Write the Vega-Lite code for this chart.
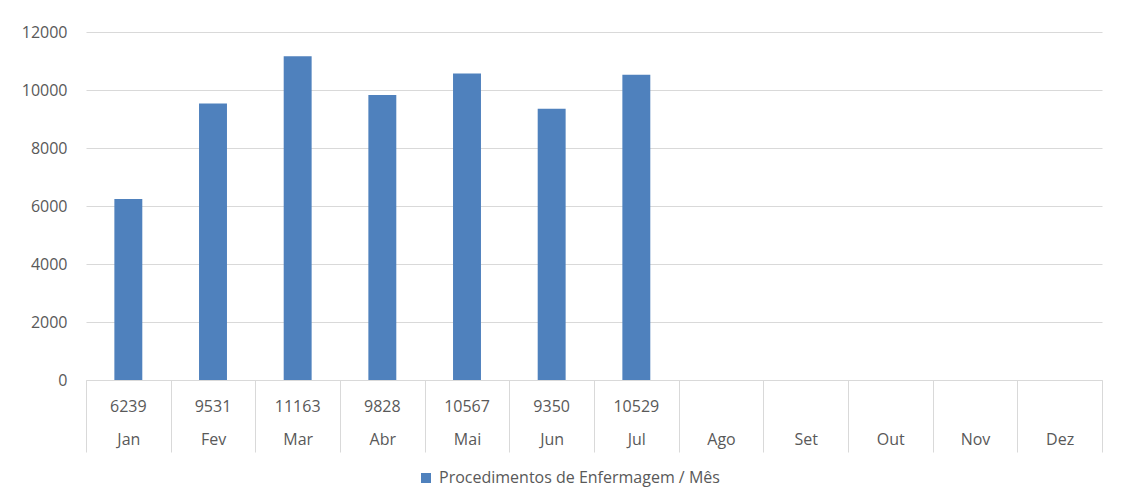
{
  "$schema": "https://vega.github.io/schema/vega-lite/v6.json",
  "width": 1016,
  "height": 348,
  "autosize": {"type": "none"},
  "padding": {"left": 86, "top": 32, "right": 19, "bottom": 124},
  "background": "white",
  "config": {
    "font": "Open Sans",
    "view": {"stroke": null},
    "axis": {"labelColor": "#595959", "labelFont": "Open Sans", "labelFontSize": 16}
  },
  "data": {
    "values": [
      {"mes": "Jan", "valor": 6239},
      {"mes": "Fev", "valor": 9531},
      {"mes": "Mar", "valor": 11163},
      {"mes": "Abr", "valor": 9828},
      {"mes": "Mai", "valor": 10567},
      {"mes": "Jun", "valor": 9350},
      {"mes": "Jul", "valor": 10529},
      {"mes": "Ago", "valor": null},
      {"mes": "Set", "valor": null},
      {"mes": "Out", "valor": null},
      {"mes": "Nov", "valor": null},
      {"mes": "Dez", "valor": null}
    ]
  },
  "encoding": {
    "x": {
      "field": "mes",
      "type": "nominal",
      "sort": null,
      "scale": {
        "domain": ["Jan", "Fev", "Mar", "Abr", "Mai", "Jun", "Jul", "Ago", "Set", "Out", "Nov", "Dez"],
        "paddingInner": 0,
        "paddingOuter": 0
      },
      "axis": {
        "title": null,
        "labelAngle": 0,
        "domainColor": "#d9d9d9",
        "tickColor": "#d9d9d9",
        "tickBand": "extent",
        "tickSize": 72,
        "labelPadding": -21
      }
    }
  },
  "layer": [
    {
      "mark": {"type": "bar", "color": "#4f81bd", "width": {"band": 0.33}},
      "encoding": {
        "y": {
          "field": "valor",
          "type": "quantitative",
          "scale": {"domain": [0, 12000], "nice": false},
          "axis": {
            "title": null,
            "values": [0, 2000, 4000, 6000, 8000, 10000, 12000],
            "format": "d",
            "labelOverlap": false,
            "ticks": false,
            "domain": false,
            "gridColor": "#d9d9d9",
            "labelPadding": 19
          }
        },
        "color": {
          "datum": "Procedimentos de Enfermagem / Mês",
          "type": "nominal",
          "scale": {"range": ["#4f81bd"]},
          "legend": {
            "title": null,
            "orient": "none",
            "legendX": 332,
            "legendY": 438,
            "symbolType": "square",
            "symbolSize": 100,
            "symbolStrokeWidth": 0,
            "labelFontSize": 16,
            "labelColor": "#595959",
            "labelFont": "Open Sans",
            "labelOffset": 5,
            "labelLimit": 0
          }
        }
      }
    },
    {
      "transform": [{"filter": "datum.valor != null"}],
      "mark": {"type": "text", "dy": 27, "baseline": "middle", "fontSize": 16, "color": "#595959", "font": "Open Sans"},
      "encoding": {
        "y": {"datum": 0, "type": "quantitative"},
        "text": {"field": "valor", "type": "quantitative", "format": "d"}
      }
    }
  ]
}
